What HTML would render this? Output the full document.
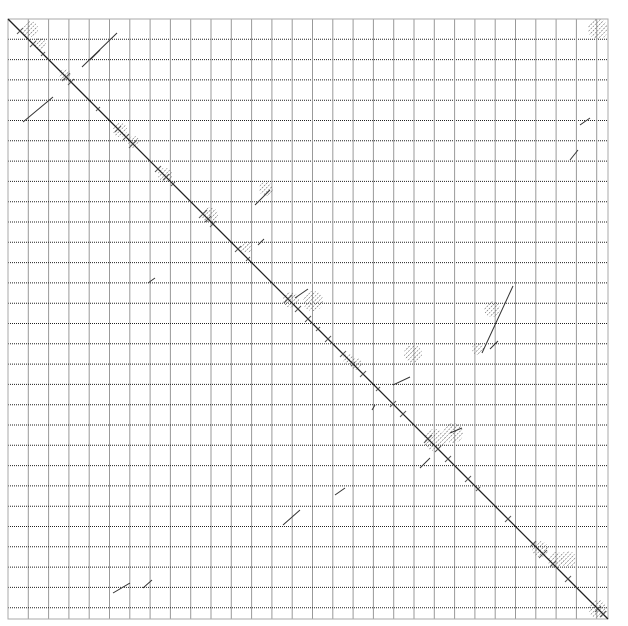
<!DOCTYPE html>
<html><head><meta charset="utf-8"><style>body{margin:0;background:#fff}svg{display:block}</style></head>
<body>
<svg id="plot" width="628" height="626" viewBox="0 0 628 626" xmlns="http://www.w3.org/2000/svg">
<defs>
<pattern id="hatch" width="3" height="3" patternUnits="userSpaceOnUse" patternTransform="rotate(45)">
<line x1="0" y1="0" x2="0" y2="2" stroke="#555" stroke-width="1"/>
</pattern>
</defs>
<g id="grid"></g>
<g id="clusters"></g>
<g id="marks"></g>
</svg>
<script>
// sequence coordinates (0..600 along each axis)
const seqLength = 600;
const gridStep = 20.3;
// off-diagonal alignment segments
const segStartX = [15,74,82,140,247,562,572,474,385,275,327,105,135,412,364,442,482,287,250];
const segStartY = [103,48,41,264,186,141,106,334,366,506,476,574,569,449,391,414,330,279,226];
const segEndX   = [45,109,92,147,262,570,582,505,402,292,337,122,144,422,367,454,490,300,256];
const segEndY   = [78,14,31,259,171,131,99,267,358,491,469,564,561,439,386,409,322,270,220];
// repeat clusters: centre x, centre y, radius
const clusterX = [22,32,57,112,126,157,202,238,283,305,348,427,445,532,548,590,590,258,405,484,560,470,340];
const clusterY = [10,25,56,111,123,156,196,228,281,282,345,421,414,530,541,590,10,170,335,290,540,330,340];
const clusterR = [8,6,6,7,6,7,8,6,8,10,6,11,10,8,8,9,10,7,9,8,8,6,5];
// short perpendicular hits crossing the diagonal (position along diagonal, half-length)
const hitPos = [12,25,35,58,63,90,110,118,125,150,158,165,195,200,205,230,240,280,290,300,310,320,335,345,355,370,385,395,420,430,440,460,470,500,525,535,545,560,590,595];
const hitLen = [3,3,2,4,3,2,3,3,4,3,3,2,4,3,3,3,2,4,3,3,2,3,3,2,3,2,3,3,4,3,3,3,2,3,3,4,3,3,3,3];

const sx = v => 8 + v, sy = v => 19 + v;
const NS = "http://www.w3.org/2000/svg";
function mk(tag, attrs, parent){const e=document.createElementNS(NS,tag);for(const k in attrs)e.setAttribute(k,attrs[k]);parent.appendChild(e);return e;}
const grid=document.getElementById('grid'), marks=document.getElementById('marks'), cl=document.getElementById('clusters');
for(let v=gridStep; v<seqLength; v+=gridStep){
  const gv=mk('line',{x1:sx(v),y1:sy(0),x2:sx(v),y2:sy(seqLength),stroke:'#999','stroke-width':1},grid);
  
  
  const gh=mk('line',{x1:sx(0),y1:sy(v),x2:sx(seqLength),y2:sy(v),stroke:'#222','stroke-width':1,'stroke-dasharray':'1 1'},grid);
  
  
}
const fr=mk('rect',{x:sx(0),y:sy(0),width:seqLength,height:seqLength,fill:'none',stroke:'#aaa','stroke-width':1},grid);


for(let i=0;i<clusterX.length;i++){
  const c=mk('circle',{cx:sx(clusterX[i]),cy:sy(clusterY[i]),r:clusterR[i],fill:'url(#hatch)'},cl);
  
  
}
const d=mk('line',{x1:sx(0),y1:sy(0),x2:sx(seqLength),y2:sy(seqLength),stroke:'#222','stroke-width':1.3},marks);


for(let i=0;i<hitPos.length;i++){
  const p=hitPos[i], h=hitLen[i];
  const t=mk('line',{x1:sx(p-h),y1:sy(p+h),x2:sx(p+h),y2:sy(p-h),stroke:'#555','stroke-width':1},marks);
  
  
}
for(let i=0;i<segStartX.length;i++){
  const s=mk('line',{x1:sx(segStartX[i]),y1:sy(segStartY[i]),x2:sx(segEndX[i]),y2:sy(segEndY[i]),stroke:'#333','stroke-width':1},marks);
  
  
}
</script>
</body></html>
